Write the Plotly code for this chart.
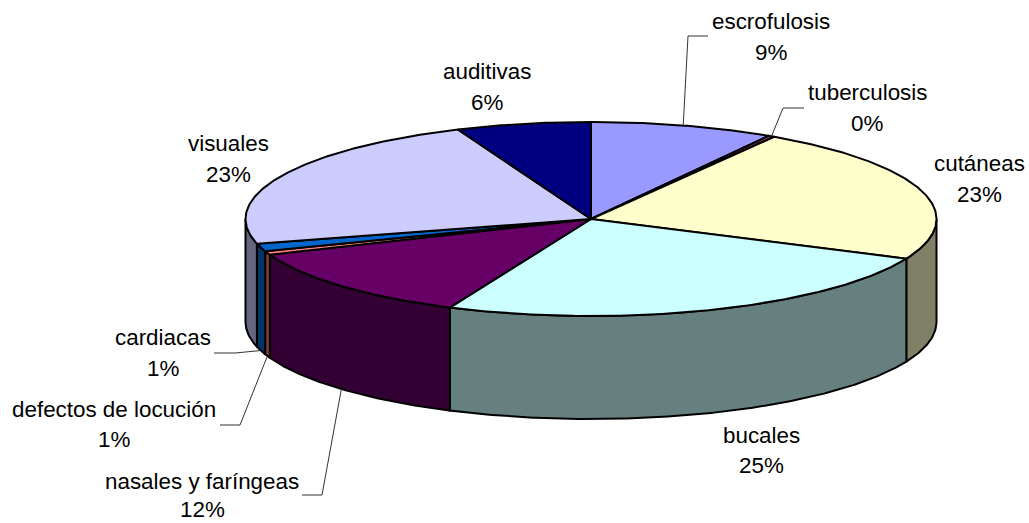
import math
import plotly.graph_objects as go

# Share of each disease group, clockwise from twelve o'clock
categories = ["escrofulosis", "tuberculosis", "cutáneas", "bucales", "nasales y faríngeas",
              "defectos de locución", "cardiacas", "visuales", "auditivas"]
shares = [8.6, 0.3, 22.8, 25.0, 12.3, 0.6, 1.3, 22.8, 6.3]
top_colors = ["#9999FF", "#993366", "#FFFFCC", "#CCFFFF", "#660066",
              "#FF8080", "#0066CC", "#CCCCFF", "#000080"]
side_colors = ["#666680", "#4D1A33", "#808066", "#668080", "#330033",
               "#804040", "#003366", "#666680", "#000040"]

# Geometry of the tilted disc, in pixels of the page
CX, CY, RX, RY, DEPTH = 591.0, 219.0, 345.5, 97.0, 103.0
FONT = "Liberation Sans, Arial, sans-serif"
FONT_SIZE = 22.4
EDGE = dict(color="#000000", width=2)


def rim(angle_deg, drop=0.0):
    a = math.radians(angle_deg)
    return CX + RX * math.sin(a), CY - RY * math.cos(a) + drop


def arc(a0, a1, drop=0.0):
    steps = max(2, int(abs(a1 - a0) * 2))
    return [rim(a0 + (a1 - a0) * i / steps, drop) for i in range(steps + 1)]


fig = go.Figure()


def polygon(points, color, line=EDGE):
    fig.add_trace(go.Scatter(
        x=[p[0] for p in points], y=[p[1] for p in points],
        mode="lines", fill="toself", fillcolor=color, line=line,
        hoverinfo="skip", showlegend=False))


# Start and end angle of every slice
bounds = []
running = 0.0
total = sum(shares)
for s in shares:
    bounds.append((running / total * 360, (running + s) / total * 360))
    running += s

# Side wall: only the part of each slice facing the viewer
for (a0, a1), color in zip(bounds, side_colors):
    lo, hi = max(a0, 90), min(a1, 270)
    if lo < hi:
        polygon(arc(lo, hi) + arc(hi, lo, DEPTH) + [rim(lo)], color)

# Top face
for (a0, a1), color in zip(bounds, top_colors):
    polygon([(CX, CY)] + arc(a0, a1) + [(CX, CY)], color)


def mid_rim(i, drop=0.0):
    return rim(sum(bounds[i]) / 2, drop)


# Leader lines: label-side elbow points, then the slice edge they reach
leaders = {
    0: ([(708, 36), (688, 36)], 0.0),
    1: ([(804, 108), (783, 108)], 0.0),
    4: ([(302, 495), (322, 495)], DEPTH),
    5: ([(220, 425), (240, 425)], DEPTH),
    6: ([(214, 353), (235, 353)], DEPTH),
}
for i, (elbow, drop) in leaders.items():
    pts = elbow + [mid_rim(i, drop)]
    fig.add_trace(go.Scatter(
        x=[p[0] for p in pts], y=[p[1] for p in pts], mode="lines",
        line=dict(color="#333333", width=1), hoverinfo="skip", showlegend=False))

# Label centres: name line and percentage line
label_pos = [
    (771, 21, 52), (867, 92, 123), (979, 163, 194), (761, 435, 465),
    (202, 481, 509.5), (114, 409, 439), (163, 337, 368), (228, 143, 174), (487, 71, 102),
]
for name, share, (x, y1, y2) in zip(categories, shares, label_pos):
    for y, txt in ((y1, name), (y2, f"{round(share / total * 100)}%")):
        fig.add_annotation(x=x, y=y, text=txt, showarrow=False, xref="x", yref="y",
                           xanchor="center", yanchor="middle",
                           font=dict(family=FONT, size=FONT_SIZE, color="#000000"))

fig.update_xaxes(range=[0, 1029], visible=False, fixedrange=True)
fig.update_yaxes(range=[523, 0], visible=False, fixedrange=True)
fig.update_layout(width=1029, height=523, autosize=False,
                  margin=dict(l=0, r=0, t=0, b=0),
                  paper_bgcolor="#FFFFFF", plot_bgcolor="#FFFFFF")
fig.write_html("out.html", config={"displayModeBar": False})
